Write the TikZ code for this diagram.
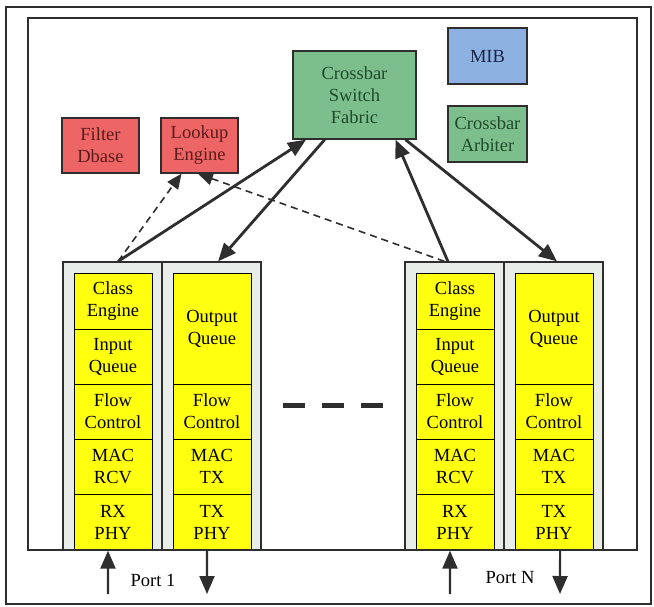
\documentclass[tikz,border=0pt]{standalone}
\usepackage{fontspec}
\setmainfont{Liberation Serif}
\usetikzlibrary{arrows.meta,calc}
\definecolor{redfill}{HTML}{EE6565}
\definecolor{redtext}{HTML}{5A1C1C}
\definecolor{greenfill}{HTML}{7DBF8C}
\definecolor{greentext}{HTML}{1F4A2C}
\definecolor{bluefill}{HTML}{8DB2E2}
\definecolor{bluetext}{HTML}{1C2448}
\definecolor{grayfill}{HTML}{E9EDEA}
\definecolor{linecol}{HTML}{2E2E2E}
\definecolor{yel}{HTML}{FFFF10}
\newcommand\drawport[2]{%
  \begin{scope}[xshift=#1pt]
    \node[graybox] (#2in) at (49.5,406) {};
    \node[graybox] (#2out) at (148.5,406) {};
    \node[ybox, minimum height=56pt] (#2ce) at (50,301) {Class\\Engine};
    \node[ybox, minimum height=55pt] (#2iq) at (50,356.5) {Input\\Queue};
    \node[ybox, minimum height=55pt] (#2fci) at (50,411.5) {Flow\\Control};
    \node[ybox, minimum height=55pt] (#2mr) at (50,466.5) {MAC\\RCV};
    \node[ybox, minimum height=56pt] (#2rx) at (50,522) {RX\\PHY};
    \node[ybox, minimum height=111pt] (#2oq) at (149,328.5) {Output\\Queue};
    \node[ybox, minimum height=55pt] (#2fco) at (149,411.5) {Flow\\Control};
    \node[ybox, minimum height=55pt] (#2mt) at (149,466.5) {MAC\\TX};
    \node[ybox, minimum height=56pt] (#2tx) at (149,522) {TX\\PHY};
  \end{scope}}
\begin{document}
\begin{tikzpicture}[x=1pt,y=-1pt,
  txt/.style={font=\fontsize{18.5}{22}\selectfont},
  box/.style={draw=linecol, line width=1.3pt, inner sep=0pt, align=center, txt},
  redbox/.style={box, fill=redfill, text=redtext, minimum width=77pt, minimum height=55pt},
  greenbox/.style={box, fill=greenfill, text=greentext},
  bluebox/.style={box, fill=bluefill, text=bluetext},
  graybox/.style={draw=linecol, line width=1.3pt, fill=grayfill, minimum width=99pt, minimum height=288pt, inner sep=0pt},
  ybox/.style={draw=black, line width=1pt, fill=yel, inner sep=0pt, align=center, minimum width=78pt, txt},
  solidarrow/.style={draw=linecol, line width=2.8pt, -{Triangle[length=18pt,width=15pt]}},
  dasharrow/.style={draw=linecol, line width=1.6pt, dash pattern=on 7pt off 5pt, -{Triangle[length=15pt,width=13pt]}},
  portarrow/.style={draw=linecol, line width=2.2pt, -{Triangle[length=18pt,width=15pt]}},
  lbl/.style={txt, inner sep=0pt}]
\useasboundingbox (0,0) rectangle (654,606);
\fill[white] (0,0) rectangle (654,606);
\draw[linecol, line width=1.3pt] (6,7) rectangle (651,604);
% ports
\drawport{63}{pa}
\drawport{405}{pn}
\draw[linecol, line width=1.3pt] (28,18) rectangle (637,550);
% top boxes
\node[redbox] (filter) at (100.5,145.5) {Filter\\Dbase};
\node[redbox] (lookup) at (199.5,145.5) {Lookup\\Engine};
\node[greenbox, minimum width=123pt, minimum height=88pt] (fab) at (354.5,95) {Crossbar\\Switch\\Fabric};
\node[bluebox, minimum width=79pt, minimum height=56pt] (mib) at (487.5,56) {MIB};
\node[greenbox, minimum width=79pt, minimum height=56pt] (arb) at (487.5,134) {Crossbar\\Arbiter};
% connectors
\draw[dasharrow] ($(pain.north west)!0.556!(pain.north east)$) -- ($(lookup.south west)!0.27!(lookup.south east)$);
\draw[dasharrow] ($(pnin.north west)!0.40!(pnin.north east)$) -- ($(lookup.south west)!0.48!(lookup.south east)$);
\draw[solidarrow] ($(pain.north west)!0.556!(pain.north east)$) -- ($(fab.south west)!0.11!(fab.south east)$);
\draw[solidarrow] ($(fab.south west)!0.26!(fab.south east)$) -- ($(paout.north west)!0.566!(paout.north east)$);
\draw[solidarrow] ($(pnin.north west)!0.434!(pnin.north east)$) -- ($(fab.south west)!0.83!(fab.south east)$);
\draw[solidarrow] ($(fab.south west)!0.91!(fab.south east)$) -- ($(pnout.north west)!0.535!(pnout.north east)$);
% port arrows
\coordinate (painsrc) at (108,594);
\coordinate (paoutdst) at (207,594);
\coordinate (pninsrc) at (450,594);
\coordinate (pnoutdst) at (560,594);
\draw[portarrow] (painsrc) -- ($(pain.south west)!0.455!(pain.south east)$);
\draw[portarrow] ($(paout.south west)!0.455!(paout.south east)$) -- (paoutdst);
\draw[portarrow] (pninsrc) -- ($(pnin.south west)!0.455!(pnin.south east)$);
\draw[portarrow] ($(pnout.south west)!0.566!(pnout.south east)$) -- (pnoutdst);
\node[lbl] (port1) at (153,580) {Port 1};
\node[lbl] (portN) at (510,578) {Port N};
% ellipsis dashes
\draw[linecol, line width=5pt] (283,405) -- (305,405);
\draw[linecol, line width=5pt] (322,405) -- (344,405);
\draw[linecol, line width=5pt] (361,405) -- (383,405);
\end{tikzpicture}
\end{document}
